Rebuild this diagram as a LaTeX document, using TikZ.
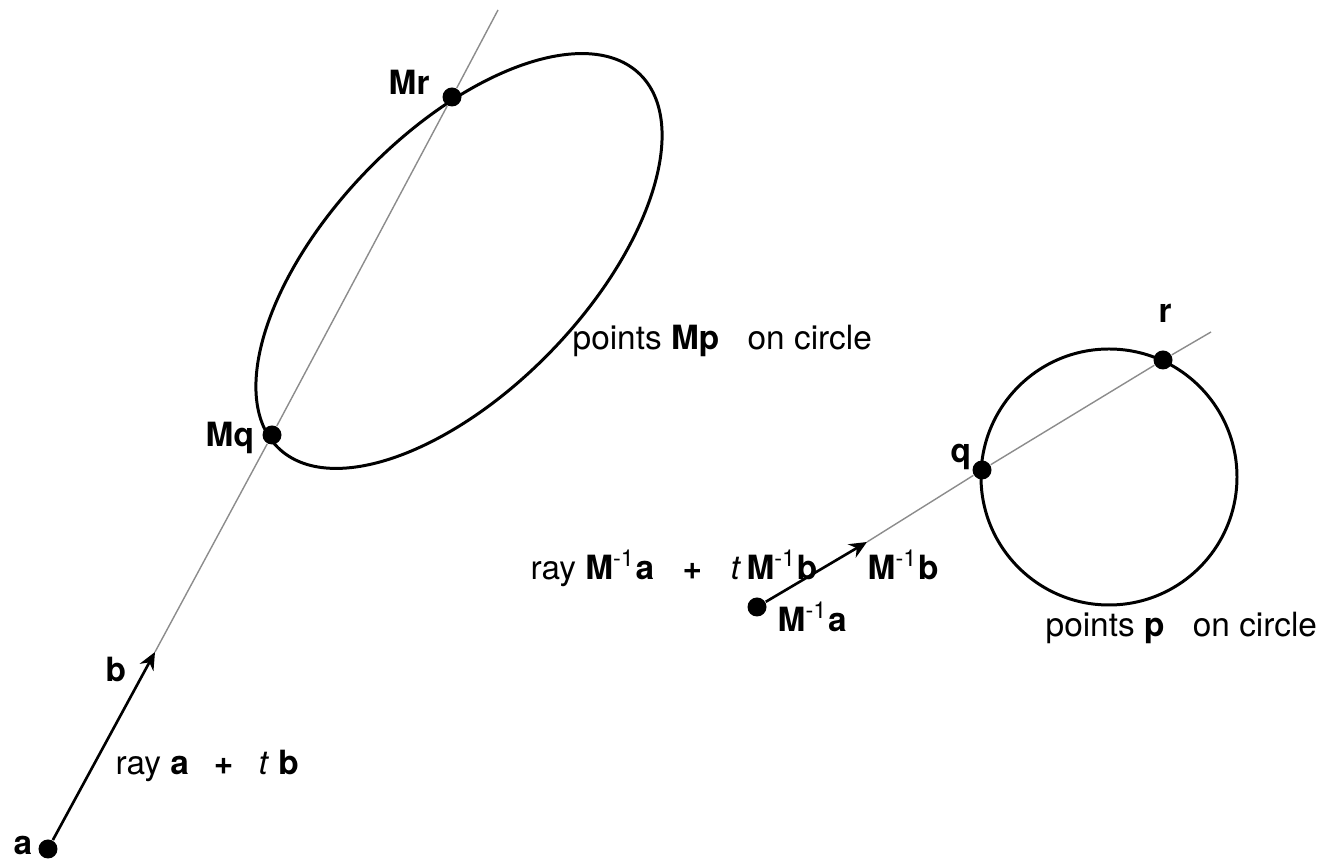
\documentclass[tikz,border=0pt]{standalone}
\usepackage{fontspec}
\setmainfont{TeX Gyre Heros}
\usetikzlibrary{arrows.meta,positioning}
\newcommand{\Minv}{\textbf{M}\textsuperscript{\normalfont-1}}
\begin{document}
\begin{tikzpicture}[
		dot/.style={circle,fill=black,inner sep=0pt,minimum size=0.19cm},
		lbl/.style={inner sep=0pt,anchor=base west,font=\fontsize{9.5}{11}\selectfont},
		rayline/.style={black!45,line width=0.4pt},
		vec/.style={black,line width=0.75pt,-{Stealth[length=5pt,width=4.4pt]}},
		curve/.style={black,line width=0.85pt}
	]
	\useasboundingbox (0,0) rectangle (13.3,8.6);

	% ===== ĐƯỜNG CONG =====
	\def\ElipM{(4.59,5.99) ellipse (2.60cm and 1.29cm)}
	\def\TronP{(11.09,3.83) circle (1.28cm)}
	\draw[curve,rotate around={46:(4.59,5.99)}] \ElipM;
	\draw[curve] \TronP;

	% ===== ĐIỂM =====
	\node[dot] (a) at (0.48,0.11) {};
	\node[dot] (Mq) at (2.72,4.25) {};
	\node[dot] (Mr) at (4.52,7.63) {};
	\coordinate (btip) at (1.55,2.08);
	\coordinate (top) at (4.98,8.50);

	\node[dot] (Ma) at (7.57,2.53) {};
	\node[dot] (q) at (9.82,3.90) {};
	\node[dot] (r) at (11.63,5.00) {};
	\coordinate (Mbtip) at (8.67,3.18);
	\coordinate (end) at (12.11,5.28);

	% ===== TIA =====
	\draw[rayline] (btip) -- (Mq) -- (Mr) -- (top);
	\draw[vec] (a) -- (btip);
	\draw[rayline] (Mbtip) -- (q) -- (r) -- (end);
	\draw[vec] (Ma) -- (Mbtip);

	% ===== NHÃN =====
	\node[lbl] (lblMr) at (3.88,7.65) {\textbf{Mr}};
	\node[lbl] (lblMq) at (2.05,4.13) {\textbf{Mq}};
	\node[lbl] (lblMp) at (5.72,5.10) {points \textbf{Mp}\hspace{0.85em}on circle};
	\node[lbl] (lblr) at (11.58,5.37) {\textbf{r}};
	\node[lbl] (lblq) at (9.50,3.97) {\textbf{q}};
	\node[lbl] (lblray2) at (5.30,2.80) {ray \Minv\textbf{a}\hspace{0.85em}\textbf{+}\hspace{0.85em}\textit{t}\,\Minv\textbf{b}};
	\node[lbl] (lblMb) at (8.67,2.80) {\Minv\textbf{b}};
	\node[lbl] (lblMa) at (7.77,2.28) {\Minv\textbf{a}};
	\node[lbl] (lblp) at (10.45,2.23) {points \textbf{p}\hspace{0.85em}on circle};
	\node[lbl] (lblb) at (1.05,1.78) {\textbf{b}};
	\node[lbl] (lblray1) at (1.15,0.85) {ray \textbf{a}\hspace{0.75em}\textbf{+}\hspace{0.75em}\textit{t} \textbf{b}};
	\node[lbl] (lbla) at (0.13,0.05) {\textbf{a}};

\end{tikzpicture}
\end{document}
